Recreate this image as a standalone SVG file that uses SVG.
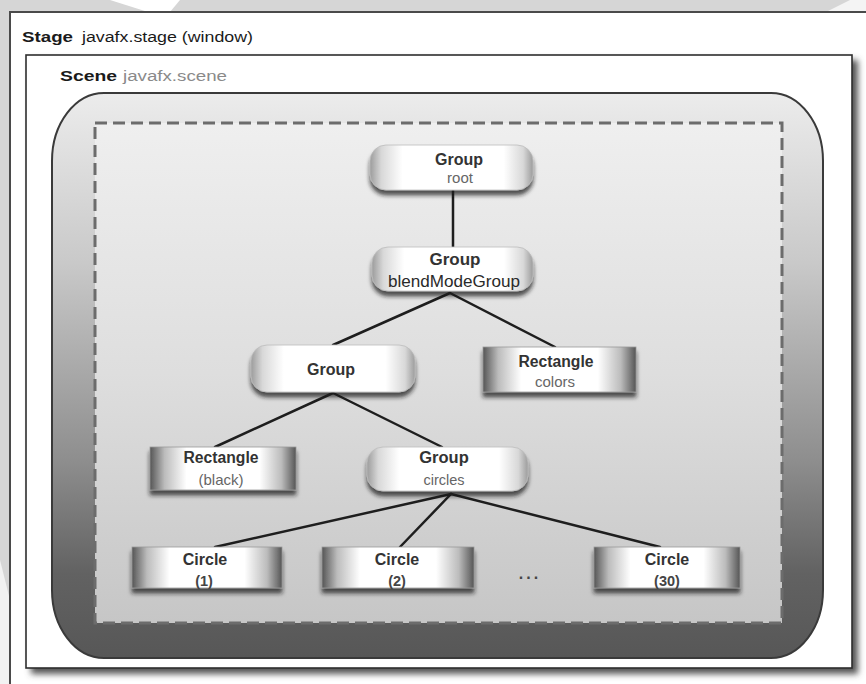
<svg xmlns="http://www.w3.org/2000/svg" width="866" height="684" viewBox="0 0 866 684">
<defs>
<style>
.ttl{font-family:"Liberation Sans",Arial,sans-serif;font-weight:bold;fill:#1a1a1a}
.lbl{font-family:"Liberation Sans",Arial,sans-serif;font-weight:bold;font-size:16px;fill:#333;text-anchor:middle}
.sl{font-family:"Liberation Sans",Arial,sans-serif;font-size:14px;fill:#666;text-anchor:middle}
.pill{fill:url(#pillG);stroke:#bdbdbd;stroke-width:0.8;filter:url(#ds)}
.box{fill:url(#rectG);stroke:#9a9a9a;stroke-width:0.8;filter:url(#ds)}
.edge{stroke:#1e1e1e;stroke-width:2.5;fill:none;stroke-linecap:round}
</style>
<linearGradient id="pillG" x1="0" y1="0" x2="1" y2="0">
<stop offset="0" stop-color="#9c9c9c"/>
<stop offset="0.07" stop-color="#d8d8d8"/>
<stop offset="0.2" stop-color="#ffffff"/>
<stop offset="0.82" stop-color="#ffffff"/>
<stop offset="0.94" stop-color="#d8d8d8"/>
<stop offset="1" stop-color="#9c9c9c"/>
</linearGradient>
<linearGradient id="rectG" x1="0" y1="0" x2="1" y2="0">
<stop offset="0" stop-color="#555"/>
<stop offset="0.1" stop-color="#bcbcbc"/>
<stop offset="0.25" stop-color="#ffffff"/>
<stop offset="0.75" stop-color="#ffffff"/>
<stop offset="0.9" stop-color="#bcbcbc"/>
<stop offset="1" stop-color="#555"/>
</linearGradient>
<linearGradient id="frameG" x1="0" y1="0" x2="0" y2="1">
<stop offset="0" stop-color="#ececec"/>
<stop offset="0.3" stop-color="#c9c9c9"/>
<stop offset="0.65" stop-color="#8e8e8e"/>
<stop offset="0.85" stop-color="#626262"/>
<stop offset="1" stop-color="#575757"/>
</linearGradient>
<linearGradient id="innerG" x1="0" y1="0" x2="0" y2="1">
<stop offset="0" stop-color="#efefef"/>
<stop offset="0.5" stop-color="#dedede"/>
<stop offset="1" stop-color="#c6c6c6"/>
</linearGradient>
<filter id="ds" x="-10%" y="-20%" width="120%" height="160%">
<feDropShadow dx="0" dy="5" stdDeviation="2.2" flood-color="#1a1a1a" flood-opacity="0.75"/>
</filter>
<filter id="blur" x="-5%" y="-5%" width="110%" height="110%">
<feGaussianBlur stdDeviation="3"/>
</filter>
</defs>

<rect x="0" y="0" width="866" height="684" fill="#d6d6d6"/>
<polygon points="110,0 180,0 170,12 148,12" fill="#ffffff"/>
<polygon points="826,12 866,12 866,0 850,0" fill="#f4f4f4"/>
<polygon points="0,560 10,600 10,684 0,684" fill="#f2f2f2"/>

<!-- Stage -->
<g id="stage">
<rect x="10" y="12" width="900" height="700" fill="#ffffff" stroke="#4a4a4a" stroke-width="2"/>
<text class="ttl" x="22" y="42" style="font-size:15px" textLength="51" lengthAdjust="spacingAndGlyphs">Stage</text>
<text class="ttl" x="82" y="42" style="font-size:14px;font-weight:normal;fill:#1a1a1a" textLength="171" lengthAdjust="spacingAndGlyphs">javafx.stage (window)</text>
</g>

<!-- Scene -->
<g id="scene">
<rect x="31" y="60" width="827" height="614" fill="#555" filter="url(#blur)"/>
<rect x="26" y="55" width="826" height="613" fill="#ffffff" stroke="#2e2e2e" stroke-width="1.6"/>
<text class="ttl" x="60" y="81" style="font-size:15px" textLength="57" lengthAdjust="spacingAndGlyphs">Scene</text>
<text class="ttl" x="123" y="81" style="font-size:14px;font-weight:normal;fill:#8a8a8a" textLength="104" lengthAdjust="spacingAndGlyphs">javafx.scene</text>
</g>

<!-- Scene graph frame -->
<g id="frame">
<rect x="52" y="93" width="771" height="565" rx="52" ry="68" fill="url(#frameG)" stroke="#3a3a3a" stroke-width="2"/>
<rect x="95" y="123" width="687" height="500" fill="url(#innerG)" stroke="#6c6c6c" stroke-width="3" stroke-dasharray="12 6"/>
</g>

<!-- Connectors -->
<g id="connectors">
<line class="edge" x1="453" y1="190" x2="453" y2="247"/>
<line class="edge" x1="450" y1="293" x2="333" y2="345"/>
<line class="edge" x1="450" y1="293" x2="555" y2="347"/>
<line class="edge" x1="333" y1="393" x2="215" y2="447"/>
<line class="edge" x1="333" y1="393" x2="442" y2="447"/>
<line class="edge" x1="451" y1="494" x2="215" y2="547"/>
<line class="edge" x1="451" y1="494" x2="400" y2="547"/>
<line class="edge" x1="451" y1="494" x2="660" y2="547"/>
</g>

<!-- Nodes -->
<g id="node-root">
<rect class="pill" x="370" y="145" width="163" height="45" rx="16" ry="16"/>
<text class="lbl" x="459" y="165">Group</text>
<text class="sl" x="460" y="183" style="font-size:15px">root</text>
</g>

<g id="node-blendModeGroup">
<rect class="pill" x="372" y="247" width="161" height="44" rx="16" ry="16"/>
<text class="lbl" x="455" y="265" style="font-size:17px">Group</text>
<text class="sl" x="454" y="287" style="font-size:16px;fill:#2a2a2a" textLength="132" lengthAdjust="spacingAndGlyphs">blendModeGroup</text>
</g>

<g id="node-group">
<rect class="pill" x="251" y="345" width="164" height="47" rx="16" ry="16"/>
<text class="lbl" x="331" y="375">Group</text>
</g>

<g id="node-rect-colors">
<rect class="box" x="483" y="347" width="153" height="45"/>
<text class="lbl" x="556" y="367" textLength="75" lengthAdjust="spacingAndGlyphs">Rectangle</text>
<text class="sl" x="555" y="387" style="font-size:15px">colors</text>
</g>

<g id="node-rect-black">
<rect class="box" x="150" y="447" width="146" height="43"/>
<text class="lbl" x="221" y="463" textLength="75" lengthAdjust="spacingAndGlyphs">Rectangle</text>
<text class="sl" x="221" y="485" style="font-size:15px">(black)</text>
</g>

<g id="node-circles">
<rect class="pill" x="367" y="447" width="161" height="44" rx="16" ry="16"/>
<text class="lbl" x="444" y="463" style="font-size:16.5px">Group</text>
<text class="sl" x="444" y="485" style="font-size:14.5px">circles</text>
</g>

<g id="node-circle1">
<rect class="box" x="132" y="547" width="150" height="41"/>
<text class="lbl" x="205" y="565">Circle</text>
<text class="lbl" x="204" y="586" style="font-size:14.5px;fill:#444">(1)</text>
</g>

<g id="node-circle2">
<rect class="box" x="322" y="547" width="152" height="41"/>
<text class="lbl" x="397" y="565">Circle</text>
<text class="lbl" x="397" y="586" style="font-size:14.5px;fill:#444">(2)</text>
</g>

<g id="ellipsis">
<text x="530" y="579" style="font-family:'Liberation Sans',Arial,sans-serif;font-size:16px;font-weight:bold;fill:#444;text-anchor:middle;letter-spacing:3px">...</text>
</g>

<g id="node-circle30">
<rect class="box" x="594" y="547" width="146" height="41"/>
<text class="lbl" x="667" y="565">Circle</text>
<text class="lbl" x="667" y="586" style="font-size:14.5px;fill:#444">(30)</text>
</g>
</svg>
